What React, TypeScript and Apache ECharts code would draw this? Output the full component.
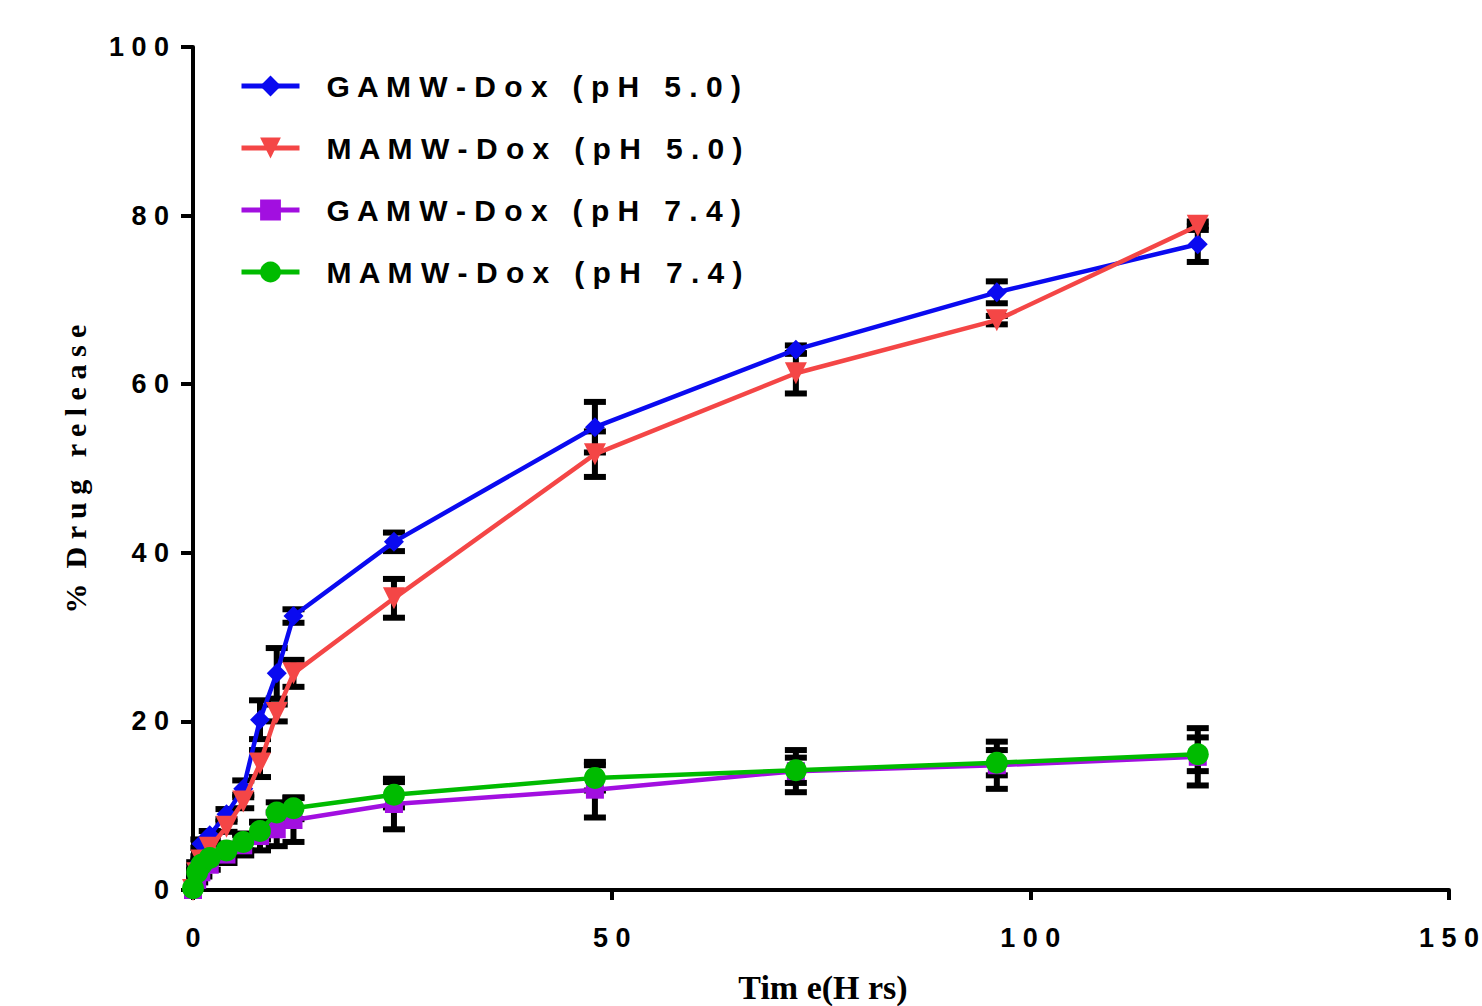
import React, { useEffect, useRef } from "react";
import * as echarts from "echarts";

const timeHrs = [0, 0.5, 1, 2, 4, 6, 8, 10, 12, 24, 48, 72, 96, 120];

const gamwPh50 = [0, 3, 5.5, 6.5, 9, 12, 20.2, 25.7, 32.5, 41.3, 54.9, 64.1, 70.9, 76.6];
const mamwPh50 = [0, 2, 3.5, 5, 7.5, 10.5, 15, 21, 25.7, 34.6, 51.7, 61.3, 67.6, 78.8];
const gamwPh74 = [0, 1.2, 2.1, 3, 4.2, 5.3, 6.4, 7.2, 8.3, 10.2, 11.9, 14.1, 14.8, 15.8];
const mamwPh74 = [0.2, 2.1, 3, 3.8, 4.7, 5.7, 7, 9.2, 9.7, 11.3, 13.3, 14.2, 15.1, 16.1];

const gamwPh50Sd = [0, 0.3, 0.5, 0.5, 0.6, 1, 2.3, 3, 0.8, 1.1, 3, 0.5, 1.3, 2.1];
const mamwPh50Sd = [0, 0.3, 0.5, 0.5, 0.6, 0.8, 1.6, 1, 1.6, 2.3, 2.7, 2.4, 0.5, 0.5];
const gamwPh74Sd = [0, 0.3, 0.5, 0.6, 1, 1.2, 1.7, 2, 2.6, 3, 3.3, 2.5, 2.8, 3.4];
const mamwPh74Sd = [0, 0.3, 0.5, 0.6, 0.8, 1, 1, 1.2, 1.3, 1.5, 1.5, 1.5, 1.5, 2];

const seriesNames = [
  "GAMW-Dox (pH 5.0)",
  "MAMW-Dox (pH 5.0)",
  "GAMW-Dox (pH 7.4)",
  "MAMW-Dox (pH 7.4)",
];

const xTicks = [0, 50, 100, 150];
const yTicks = [0, 20, 40, 60, 80, 100];

const spaced = (s: string) => s.split("").join(" ");

export default function App() {
  const ref = useRef<HTMLDivElement>(null);

  useEffect(() => {
    if (!ref.current) return;
    const chart = echarts.init(ref.current, null, { renderer: "svg" });

    const colors = ["#0a0af0", "#f44646", "#a20fe0", "#00bb00"];
    const values = [gamwPh50, mamwPh50, gamwPh74, mamwPh74];
    const sds = [gamwPh50Sd, mamwPh50Sd, gamwPh74Sd, mamwPh74Sd];
    const symbols = ["diamond", "triangle", "rect", "circle"];
    const sizes = [20, 22, 18, 22];
    const rotates = [0, 180, 0, 0];

    const errorSeries = values.map((vals, i) => ({
      type: "custom",
      name: "err" + i,
      z: 1,
      silent: true,
      data: timeHrs
        .map((t, k) => [t, vals[k] - sds[i][k], vals[k] + sds[i][k], sds[i][k]])
        .filter((d) => d[3] > 0),
      renderItem: (params: any, api: any) => {
        const x = api.value(0);
        const lo = api.coord([x, api.value(1)]);
        const hi = api.coord([x, api.value(2)]);
        const hw = 11;
        const style = { stroke: "#000", lineWidth: 6 };
        return {
          type: "group",
          children: [
            { type: "line", shape: { x1: lo[0], y1: lo[1], x2: hi[0], y2: hi[1] }, style },
            { type: "line", shape: { x1: lo[0] - hw, y1: lo[1], x2: lo[0] + hw, y2: lo[1] }, style },
            { type: "line", shape: { x1: hi[0] - hw, y1: hi[1], x2: hi[0] + hw, y2: hi[1] }, style },
          ],
        };
      },
    }));

    const lineSeries = values.map((vals, i) => ({
      type: "line",
      name: seriesNames[i],
      z: 3 + i,
      data: timeHrs.map((t, k) => [t, vals[k]]),
      symbol: symbols[i],
      symbolSize: sizes[i],
      symbolRotate: rotates[i],
      showAllSymbol: true,
      lineStyle: { color: colors[i], width: 4.5 },
      itemStyle: { color: colors[i] },
    }));

    chart.setOption({
      animation: false,
      backgroundColor: "#fff",
      grid: { left: 193, right: 32, top: 47, bottom: 116, containLabel: false },
      legend: {
        orient: "vertical",
        left: 234,
        top: 66,
        itemWidth: 58,
        itemHeight: 26,
        itemGap: 32,
        data: seriesNames,
        lineStyle: { width: 5 },
        formatter: (name: string) => spaced(name),
        textStyle: {
          fontFamily: "Liberation Sans, Arial, sans-serif",
          fontWeight: "bold",
          fontSize: 30,
          lineHeight: 30,
          color: "#000",
          padding: [0, 0, 0, 22],
        },
      },
      xAxis: {
        type: "value",
        min: 0,
        max: 150,
        interval: 50,
        axisLine: { show: true, lineStyle: { color: "#000", width: 4 } },
        axisTick: { show: true, length: 10, lineStyle: { color: "#000", width: 4 } },
        splitLine: { show: false },
        axisLabel: {
          margin: 34,
          color: "#000",
          fontFamily: "Liberation Sans, Arial, sans-serif",
          fontWeight: "bold",
          fontSize: 27,
          formatter: (v: number) => spaced(String(v)),
        },
      },
      yAxis: {
        type: "value",
        min: 0,
        max: 100,
        interval: 20,
        axisLine: { show: true, lineStyle: { color: "#000", width: 4 } },
        axisTick: { show: true, length: 12, lineStyle: { color: "#000", width: 4 } },
        splitLine: { show: false },
        axisLabel: {
          margin: 24,
          color: "#000",
          fontFamily: "Liberation Sans, Arial, sans-serif",
          fontWeight: "bold",
          fontSize: 27,
          formatter: (v: number) => spaced(String(v)),
        },
      },
      graphic: [
        {
          type: "text",
          x: 75,
          y: 469,
          rotation: Math.PI / 2,
          style: {
            text: "%  D r u g   r e l e a s e",
            fontFamily: "Liberation Serif, Times New Roman, serif",
            fontWeight: "bold",
            fontSize: 30,
            fill: "#000",
            align: "center",
            verticalAlign: "middle",
          },
        },
        {
          type: "text",
          x: 823,
          y: 987,
          style: {
            text: "Tim e(H rs)",
            fontFamily: "Liberation Serif, Times New Roman, serif",
            fontWeight: "bold",
            fontSize: 34,
            lineHeight: 34,
            fill: "#000",
            align: "center",
            verticalAlign: "middle",
          },
        },
      ],
      series: [...errorSeries, ...lineSeries],
    });

    return () => chart.dispose();
  }, []);

  return (
    <div
      ref={ref}
      style={{ position: "fixed", left: 0, top: 0, width: 1482, height: 1006, background: "#fff" }}
    />
  );
}
